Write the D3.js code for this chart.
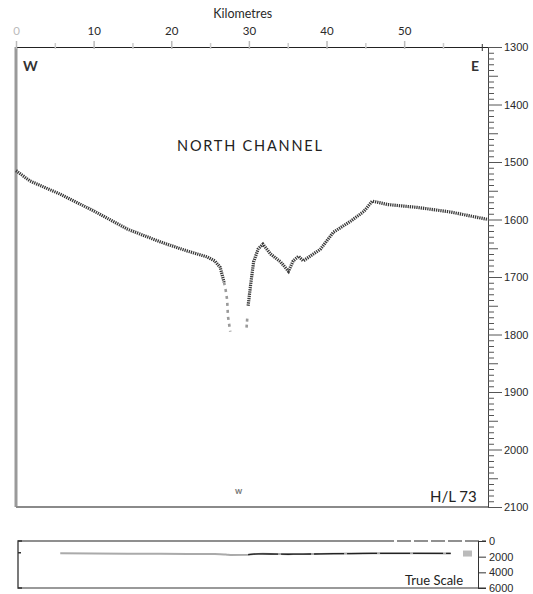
<!DOCTYPE html>
<html><head><meta charset="utf-8">
<script src="https://cdn.jsdelivr.net/npm/d3@7"></script>
<style>
body{margin:0;background:#fff;}
svg{display:block;font-family:Lato,"Open Sans",sans-serif;}
</style></head>
<body>
<svg id="c" width="533" height="594"></svg>
<script>
// ---- data ----
const kmTicksMajor = [0, 10, 20, 30, 40, 50];
const kmTicksMinor = [5, 15, 25, 35, 45, 55, 60];
const depthTicks = [1300, 1400, 1500, 1600, 1700, 1800, 1900, 2000, 2100];
const trueScaleTicks = [0, 2000, 4000, 6000];

// West flank (dark trace)
const westKm    = [0, 1.8, 5.7, 10.0, 14.4, 18.6, 22.1, 24.6, 25.6, 26.3, 26.8];
const westDepth = [1515, 1533, 1556, 1585, 1617, 1639, 1655, 1665, 1672, 1683, 1709];
// West flank faint continuation
const westFaintKm    = [26.8, 27.0, 27.2, 27.3, 27.6];
const westFaintDepth = [1709, 1722, 1740, 1768, 1795];
// East faint piece
const eastFaintKm    = [29.7, 29.8];
const eastFaintDepth = [1788, 1770];
// East flank (dark trace)
const eastKm    = [29.9, 30.2, 30.6, 31.2, 31.8, 32.8, 34.1, 35.1, 35.7, 36.4, 37.0, 38.3, 39.2, 40.9, 43.1, 44.8, 45.9, 47.9, 51.7, 56.0, 60.8];
const eastDepth = [1750, 1716, 1674, 1651, 1643, 1660, 1674, 1690, 1672, 1664, 1672, 1660, 1652, 1622, 1603, 1586, 1568, 1574, 1579, 1587, 1600];

// ---- scales ----
const svg = d3.select("#c");
const x = d3.scaleLinear().domain([0, 60.8]).range([16, 488]);
const y = d3.scaleLinear().domain([1300, 2100]).range([47, 507]);
const yT = d3.scaleLinear().domain([0, 6000]).range([541, 588]);

// ---- frame ----
svg.append("line").attr("x1", x(0)).attr("x2", x(0)).attr("y1", y(1300)).attr("y2", y(2100))
  .attr("stroke", "#9a9a9a").attr("stroke-width", 3);
svg.append("line").attr("x1", x(0)).attr("x2", x(60.8)).attr("y1", y(2100)).attr("y2", y(2100))
  .attr("stroke", "#8a8a8a").attr("stroke-width", 2.2);

// top km axis
const topAxis = d3.axisTop(x).tickValues(kmTicksMajor.concat(kmTicksMinor).sort((a,b)=>a-b))
  .tickSize(0).tickFormat(d => (d % 10 === 0 && d < 60) ? d : "");
const gTop = svg.append("g").attr("transform", `translate(0,${y(1300)})`).call(topAxis);
gTop.select(".domain").attr("stroke", "#222").attr("stroke-width", 1.2);
gTop.selectAll(".tick line").attr("y2", d => d % 10 === 0 ? -6 : -4).attr("y1", 2)
  .attr("stroke", d => d % 10 === 0 ? "#bbb" : "#ccc").attr("stroke-width", 1.5);
gTop.selectAll(".tick line").filter(d => d === 60).attr("stroke", "#333").attr("y1", 4).attr("y2", -3).attr("stroke-width", 1);
gTop.selectAll(".tick text").attr("dy", "-0.75em").attr("font-size", 11.5).attr("fill", d => d === 0 ? "#bbb" : "#2a2a2a")
  .attr("font-family", "Lato, sans-serif");
svg.append("text").attr("x", x(29.2)).attr("y", 18).attr("text-anchor", "middle")
  .attr("font-size", 12.5).attr("fill", "#2a2a2a").text("Kilometres");

// right depth axis
const rightAxis = d3.axisRight(y).tickValues(d3.range(1300, 2101, 10)).tickSize(0)
  .tickFormat(d => depthTicks.includes(d) ? d : "");
const gR = svg.append("g").attr("transform", `translate(${x(60.8)},0)`).call(rightAxis);
gR.select(".domain").attr("stroke", "#444").attr("stroke-width", 1);
gR.selectAll(".tick line").attr("x2", d => d % 100 === 0 ? 14 : (d % 50 === 0 ? 10 : 6))
  .attr("stroke", "#555").attr("stroke-width", 1);
gR.selectAll(".tick text").attr("x", 16).attr("font-size", 11).attr("fill", "#2a2a2a");

// labels inside
svg.append("text").attr("x", 23).attr("y", 71).attr("font-size", 14).attr("font-weight", "bold").attr("fill", "#333").text("W");
svg.append("text").attr("x", 471).attr("y", 71).attr("font-size", 14).attr("font-weight", "bold").attr("fill", "#333").text("E");
svg.append("text").attr("x", 177).attr("y", 151).attr("font-size", 14.5).attr("fill", "#222")
  .attr("textLength", 145).attr("lengthAdjust", "spacing").text("NORTH  CHANNEL");
svg.append("text").attr("x", 430).attr("y", 502).attr("font-size", 15).attr("fill", "#222").text("H/L 73");
svg.append("text").attr("x", 235).attr("y", 494).attr("font-size", 9).attr("font-weight", "bold").attr("fill", "#777").text("w");

// ---- profile ----
const lineV = d3.line().x(d => x(d[0])).y(d => y(d[1])).curve(d3.curveLinear);
svg.append("path").datum(d3.zip(westKm, westDepth)).attr("d", lineV)
  .attr("fill", "none").attr("stroke", "#3a3a3a").attr("stroke-width", 3.2).attr("stroke-dasharray", "1.3,0.9");
svg.append("path").datum(d3.zip(westFaintKm, westFaintDepth)).attr("d", lineV)
  .attr("fill", "none").attr("stroke", "#9a9a9a").attr("stroke-width", 2.6).attr("stroke-dasharray", "3,4");
svg.append("path").datum(d3.zip(eastFaintKm, eastFaintDepth)).attr("d", lineV)
  .attr("fill", "none").attr("stroke", "#9a9a9a").attr("stroke-width", 2.6).attr("stroke-dasharray", "3,3");
svg.append("path").datum(d3.zip(eastKm, eastDepth)).attr("d", lineV)
  .attr("fill", "none").attr("stroke", "#3a3a3a").attr("stroke-width", 3.2).attr("stroke-dasharray", "1.3,0.9");

// ---- true scale inset ----
const xi0 = 18, xi1 = 478;
svg.append("line").attr("x1", xi0).attr("x2", 380).attr("y1", yT(0)).attr("y2", yT(0)).attr("stroke", "#8f8f8f").attr("stroke-width", 2);
svg.append("line").attr("x1", 380).attr("x2", 486).attr("y1", yT(0)).attr("y2", yT(0)).attr("stroke", "#222").attr("stroke-width", 1.2).attr("stroke-dasharray", "14,3");
svg.append("line").attr("x1", xi0).attr("x2", 486).attr("y1", yT(6000)).attr("y2", yT(6000)).attr("stroke", "#999").attr("stroke-width", 2);
svg.append("path").attr("d", `M${xi0+4},${yT(0)}H${xi0}V${yT(6000)}H${xi0+4}M${xi0},${yT(1500)}H${xi0+3}`)
  .attr("fill", "none").attr("stroke", "#333").attr("stroke-width", 1.3);
const lineT = d3.line().x(d => x(d[0])).y(d => yT(d[1]));
const allKm = westKm.concat(westFaintKm.slice(1), eastKm);
const allDepth = westDepth.concat(westFaintDepth.slice(1), eastDepth);
const allPts = d3.zip(allKm, allDepth).filter(d => d[0] >= 2.5 && d[0] <= 58.5);
svg.append("path").datum(allPts).attr("d", lineT).attr("fill", "none").attr("stroke", "#aaa").attr("stroke-width", 2);
svg.append("path").datum(allPts.filter(d => d[0] >= 29)).attr("d", lineT).attr("fill", "none")
  .attr("stroke", "#222").attr("stroke-width", 1.3).attr("stroke-dasharray", "30,3");
svg.append("rect").attr("x", 463).attr("y", yT(1600) - 3).attr("width", 9).attr("height", 6).attr("fill", "#bbb");
const tAxis = d3.axisRight(yT).tickValues(trueScaleTicks).tickSize(8).tickFormat(d => d);
const gT = svg.append("g").attr("transform", `translate(${xi1},0)`).call(tAxis);
gT.select(".domain").attr("stroke", "#333").attr("stroke-width", 1);
gT.selectAll(".tick line").attr("stroke", "#333");
gT.selectAll(".tick text").attr("x", 11).attr("font-size", 11).attr("fill", "#2a2a2a");
svg.append("text").attr("x", 405).attr("y", 585).attr("font-size", 13).attr("fill", "#222").text("True Scale");
</script>
</body></html>
